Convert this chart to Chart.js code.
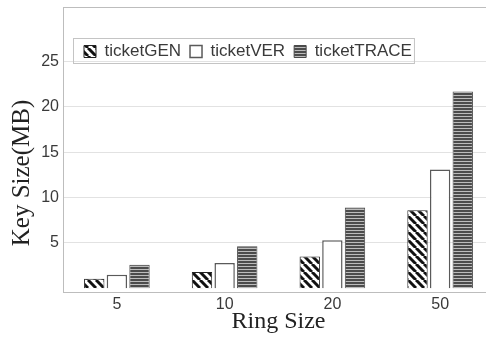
<!DOCTYPE html>
<html>
<head>
<meta charset="utf-8">
<script src="https://cdn.jsdelivr.net/npm/chart.js@4.4.0/dist/chart.umd.min.js"></script>
<style>
html, body {margin: 0; padding: 0; background: #fff; overflow: hidden;}
#wrap {width: 494px; height: 339px;}
</style>
</head>
<body>
<div id="wrap"><canvas id="key-size" width="494" height="339"></canvas></div>
<script>
const ring_sizes = ['5', '10', '20', '50'];
const ticket_gen = [1.05, 1.8, 3.5, 8.6];
const ticket_ver = [1.5, 2.8, 5.3, 13.1];
const ticket_trace = [2.6, 4.65, 8.9, 21.7];
const y_ticks = [5, 10, 15, 20, 25];

const grid_color = '#e2e2e2';
const frame_color = '#bdbdbd';
const text_color = '#3a3a3a';

//build the fill patterns
function stripe_pattern() {
    const c = document.createElement('canvas');
    c.width = 8; c.height = 8;
    const g = c.getContext('2d');
    g.fillStyle = '#fff';
    g.fillRect(0, 0, 8, 8);
    g.strokeStyle = '#111';
    g.lineWidth = 3;
    [-8, 0, 8].forEach(o => {
        g.beginPath();
        g.moveTo(o, 0);
        g.lineTo(o + 8, 8);
        g.stroke();
    });
    return g.createPattern(c, 'repeat');
}

function line_pattern() {
    const c = document.createElement('canvas');
    c.width = 4; c.height = 3;
    const g = c.getContext('2d');
    g.fillStyle = '#4c4c4c';
    g.fillRect(0, 0, 4, 3);
    g.fillStyle = '#bcbcbc';
    g.fillRect(0, 2, 4, 1);
    return g.createPattern(c, 'repeat');
}

// legend sits inside the plot: it takes no room in the layout
const legend_inside = {
    id: 'legendInside',
    beforeInit(chart) {
        const fitValue = chart.legend.fit;
        chart.legend.fit = function fit() {
            fitValue.bind(chart.legend)();
            this.height = 0;
        };
    },
    afterLayout(chart) {
        const lg = chart.legend;
        const ca = chart.chartArea;
        lg.left = ca.left + 12;
        lg.right = ca.right;
        lg.width = lg.right - lg.left;
        lg.top = ca.top + 27;
        lg.height = 40;
        lg.bottom = lg.top + lg.height;
    },
    afterDraw(chart) {
        const ctx = chart.ctx;
        const ca = chart.chartArea;
        const lg = chart.legend;
        ctx.save();
        ctx.strokeStyle = frame_color;
        ctx.lineWidth = 1;
        ctx.beginPath();
        ctx.moveTo(ca.left, ca.top + 0.5);
        ctx.lineTo(ca.right, ca.top + 0.5);
        ctx.stroke();
        // frame round the legend
        const right = lg.left + lg.lineWidths[0] + 2;
        ctx.strokeStyle = '#c4c4c4';
        ctx.strokeRect(ca.left + 10.5, ca.top + 31.5, right - ca.left - 10, 25);
        ctx.restore();
    }
};

const ctx1 = document.getElementById('key-size');
new Chart(ctx1, {
    type: 'bar',
    data: {
        labels: ring_sizes,
        datasets: [{
            label: 'ticketGEN',
            data: ticket_gen,
            backgroundColor: stripe_pattern(),
            borderColor: '#222',
            borderWidth: 1,
        }, {
            label: 'ticketVER',
            data: ticket_ver,
            backgroundColor: '#fff',
            borderColor: '#5a5a5a',
            borderWidth: 1.5,
        }, {
            label: 'ticketTRACE',
            data: ticket_trace,
            backgroundColor: line_pattern(),
            borderColor: '#4a4a4a',
            borderWidth: 1,
        }]
    },
    options: {
        responsive: false,
        animation: false,
        categoryPercentage: 0.63,
        barPercentage: 0.9,
        layout: {
            padding: {top: 7, right: 0, left: 0, bottom: 0}
        },
        plugins: {
            // y axis title: centred on the whole figure height like the original
            title: {
                display: true,
                position: 'left',
                text: 'Key Size(MB)',
                color: '#222',
                padding: {top: 7, bottom: 0},
                font: {family: 'Liberation Serif', size: 25, weight: 'normal'}
            },
            legend: {
                position: 'top',
                align: 'start',
                labels: {
                    boxWidth: 12,
                    boxHeight: 12,
                    padding: 9,
                    color: text_color,
                    font: {family: 'Liberation Sans', size: 17}
                }
            },
            tooltip: {enabled: false}
        },
        scales: {
            x: {
                grid: {display: false, drawTicks: false},
                border: {color: frame_color},
                ticks: {
                    color: text_color,
                    padding: 3,
                    font: {family: 'Liberation Sans', size: 16}
                },
                title: {
                    display: true,
                    text: 'Ring Size',
                    color: '#222',
                    padding: {top: 0, bottom: 3},
                    font: {family: 'Liberation Serif', size: 24}
                },
                afterFit(scale) { scale.height = 47; }
            },
            y: {
                min: -0.4,
                max: 31,
                afterBuildTicks(scale) {
                    scale.ticks = y_ticks.map(v => ({value: v}));
                },
                grid: {color: grid_color, drawTicks: false},
                border: {color: frame_color},
                ticks: {
                    color: text_color,
                    padding: 4,
                    font: {family: 'Liberation Sans', size: 16}
                },
                afterFit(scale) {
                    scale.width = 63 - 37;
                    scale.paddingTop = 0;
                    scale.paddingBottom = 0;
                }
            }
        }
    },
    plugins: [legend_inside]
});
</script>
</body>
</html>
